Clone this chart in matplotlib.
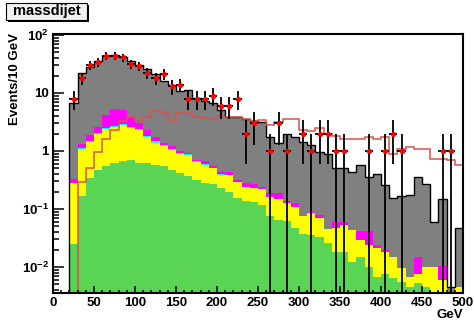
import numpy as np
import matplotlib
matplotlib.use("Agg")
import matplotlib.pyplot as plt
from matplotlib.patches import Rectangle
from matplotlib.ticker import MultipleLocator, LogLocator, NullFormatter

plt.rcParams['font.family'] = ['Liberation Sans', 'DejaVu Sans']
plt.rcParams['font.weight'] = 'bold'
plt.rcParams['mathtext.fontset'] = 'custom'
plt.rcParams['mathtext.rm'] = 'Liberation Sans:bold'
plt.rcParams['mathtext.it'] = 'Liberation Sans:bold'
plt.rcParams['mathtext.bf'] = 'Liberation Sans:bold'

# 10 GeV bins from 0 to 500 GeV
edges = np.arange(0, 510, 10)
centers = edges[:-1] + 5

# Background components (events / bin), bottom of the stack first
green = [0, 0, 0.025, 0.17, 0.34, 0.47, 0.55, 0.62, 0.66, 0.69,
         0.63, 0.61, 0.57, 0.55, 0.47, 0.42, 0.37, 0.32, 0.28, 0.27,
         0.23, 0.20, 0.152, 0.135, 0.13, 0.115, 0.077, 0.065, 0.062, 0.047,
         0.037, 0.035, 0.033, 0.026, 0.018, 0.018, 0.012, 0.015, 0.0099, 0.0068,
         0.0075, 0.0064, 0.0056, 0.0045, 0.0052, 0.0045, 0.0037, 0.003, 0.002, 0.002]
yellow = [0, 0, 0.255, 0.90, 1.11, 1.48, 1.85, 1.98, 2.14, 1.81,
          1.67, 1.14, 0.83, 0.65, 0.58, 0.46, 0.48, 0.33, 0.30, 0.23,
          0.16, 0.18, 0.138, 0.105, 0.10, 0.105, 0.083, 0.085, 0.063, 0.063,
          0.04, 0.05, 0.037, 0.02, 0.029, 0.035, 0.032, 0.014, 0.0141, 0.0142,
          0.0105, 0.0086, 0.004, 0.0023, 0.0025, 0.0054, 0.0062, 0.0029, 0.001, 0.0025]
cyan = [0, 0, 0, 0.04, 0.05, 0.06, 0.08, 0.09, 0.10, 0.09,
        0.08, 0.07, 0.06, 0.05, 0.04, 0.03, 0.03, 0.02, 0.02, 0.01,
        0.01, 0, 0, 0, 0, 0, 0, 0, 0, 0,
        0, 0, 0, 0, 0, 0, 0, 0, 0, 0,
        0, 0, 0, 0, 0, 0, 0, 0, 0, 0]
magenta = [0, 0, 0.05, 0.19, 0.40, 0.59, 1.72, 2.51, 2.2, 1.31,
           0.62, 0.48, 0.29, 0.12, 0.11, 0.09, 0.05, 0.03, 0.07, 0.04,
           0.04, 0.05, 0.03, 0.04, 0.04, 0.02, 0.03, 0.04, 0.01, 0.015,
           0, 0.005, 0.01, 0, 0.013, 0.007, 0, 0.012, 0.017, 0.003,
           0.002, 0, 0, 0, 0.0073, 0, 0, 0.0045, 0, 0]
gray = [0, 0, 6.3, 20.6, 26.5, 32.4, 39.8, 39.8, 36.4, 32.1,
        27.5, 23.2, 19.3, 14.6, 12.5, 9.8, 10.4, 7.6, 6.7, 6.25,
        4.66, 3.47, 3.58, 3.32, 3.03, 2.96, 1.56, 1.19, 1.84, 1.63,
        1.34, 1.18, 0.89, 0.85, 0.45, 0.45, 0.39, 0.54, 0.32, 0.38,
        0.24, 0.14, 0.16, 0.17, 0.345, 0.26, 0.05, 0.14, 0.0015, 0.042]

# Signal expectation (red line)
signal = [0, 0, 0, 0.29, 0.50, 0.96, 1.6, 2.3, 3.3, 3.9,
          3.3, 3.8, 4.8, 4.7, 3.4, 4.5, 4.6, 3.9, 3.7, 3.5,
          3.9, 3.8, 3.8, 3.5, 3.3, 3.4, 2.8, 3.2, 3.5, 3.5,
          2.3, 2.2, 2.5, 2.0, 1.8, 1.6, 1.64, 1.64, 1.75, 1.6,
          1.75, 0.89, 1.1, 1.19, 1.1, 1.1, 0.72, 0.74, 0.7, 0.58]

# Observed events per bin
data = [0, 0, 8, 18, 30, 34, 44, 44, 41, 32,
        29, 22, 18, 21, 13, 14, 8, 8, 8, 9,
        6, 6, 8, 2, 3, 0, 1, 3, 1, 0,
        2, 1, 2, 2, 1, 1, 0, 0, 1, 0,
        1, 2, 1, 0, 0, 0, 0, 1, 1, 0]

fig = plt.figure(figsize=(4.74, 3.26), dpi=100)
ax = fig.add_axes([53 / 474, 1 - 293 / 326, 410 / 474, 259 / 326])
ax.set_yscale("log")

# Stack levels, drawn from the top level down like THStack
components = [green, yellow, cyan, magenta, gray]
colors = ['#59d454', '#ffff00', '#00ffff', '#ff00ff', '#808080']
levels = np.cumsum(np.array(components), axis=0)
floor = 1e-5
for lev, col in reversed(list(zip(levels, colors))):
    ax.stairs(np.maximum(lev, floor), edges, baseline=floor, fill=True,
              color=col, linewidth=0)
ax.stairs(np.maximum(levels[-1], floor), edges, baseline=None,
          color='black', linewidth=1.0)

# signal line
ax.stairs(np.maximum(np.array(signal), floor), edges, baseline=None,
          color='#d9534f', linewidth=1.1)

# data points
data = np.array(data, dtype=float)
mask = data > 0
ax.errorbar(centers[mask], data[mask], yerr=np.sqrt(data[mask]), xerr=5,
            fmt='o', color='red', markersize=3.8, markeredgewidth=0,
            ecolor='black', elinewidth=1.3, capsize=0, zorder=5)

ax.set_xlim(0, 500)
ax.set_ylim(0.00356, 104)

ax.xaxis.set_major_locator(MultipleLocator(50))
ax.xaxis.set_minor_locator(MultipleLocator(10))
ax.set_yticks([0.01, 0.1, 1, 10, 100])
ax.set_yticklabels([r'$10^{-2}$', r'$10^{-1}$', '1', '10', r'$10^{2}$'])
ax.yaxis.set_minor_locator(LogLocator(base=10, subs=np.arange(2, 10)))
ax.yaxis.set_minor_formatter(NullFormatter())

ax.tick_params(axis='both', which='both', direction='in', top=False,
               right=False, width=1.1, labelsize=9.5)
ax.tick_params(axis='x', which='major', length=5, pad=3)
ax.tick_params(axis='x', which='minor', length=2.5)
ax.tick_params(axis='y', which='major', length=8, pad=3)
ax.tick_params(axis='y', which='minor', length=4)
for s in ax.spines.values():
    s.set_linewidth(1.5)

fig.text(463 / 474, 1 - 318 / 326, 'GeV', ha='right', va='baseline',
         fontsize=9.5, fontweight='bold')
fig.text(15 / 474, 1 - 33 / 326, 'Events/10 GeV', rotation=90,
         ha='center', va='top', fontsize=9.5, fontweight='bold')

# title box with shadow
fig.patches.append(Rectangle((8 / 474, 1 - 22 / 326), 81 / 474, 17 / 326,
                             transform=fig.transFigure, facecolor='black',
                             edgecolor='none'))
fig.patches.append(Rectangle((6 / 474, 1 - 20 / 326), 81 / 474, 17 / 326,
                             transform=fig.transFigure, facecolor='#f0f0f0',
                             edgecolor='black', linewidth=0.8))
fig.text(46.5 / 474, 1 - 11.5 / 326, 'massdijet', ha='center', va='center',
         fontsize=10.5, fontweight='bold')

fig.savefig("out.png", dpi=100)
